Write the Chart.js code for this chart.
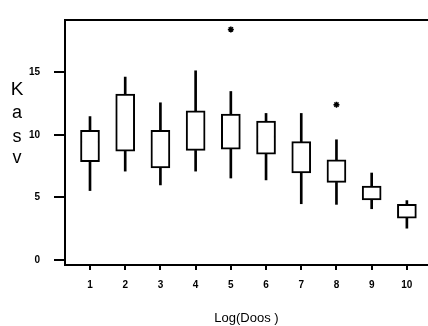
<!DOCTYPE html>
<html>
<head>
<meta charset="utf-8">
<script src="https://cdn.jsdelivr.net/npm/chart.js@4"></script>
<style>
  body { margin: 0; background: #fff; }
  canvas { display: block; }
</style>
</head>
<body>
<canvas id="chart" width="428" height="326"></canvas>
<script>
const ctx = document.getElementById("chart").getContext("2d");

// dose groups and box plot stats
const doses = [1, 2, 3, 4, 5, 6, 7, 8, 9, 10];
const whiskerLow = [5.55, 7.1, 6.0, 7.1, 6.55, 6.4, 4.5, 4.45, 4.1, 2.55];
const q1 = [7.85, 8.7, 7.35, 8.75, 8.85, 8.45, 6.95, 6.2, 4.8, 3.35];
const median = [9.45, 11.6, 8.7, 10.1, 10.15, 9.85, 8.25, 7.15, 5.65, 3.85];
const q3 = [10.35, 13.25, 10.35, 11.9, 11.65, 11.1, 9.45, 8.0, 5.9, 4.45];
const whiskerHigh = [11.45, 14.6, 12.55, 15.1, 13.45, 11.7, 11.7, 9.6, 6.95, 4.75];
const outlierDose = [5, 8];
const outlierValue = [18.4, 12.4];
const xTicks = [1, 2, 3, 4, 5, 6, 7, 8, 9, 10];
const yTicks = [0, 5, 10, 15];
const yTitle = ["K", "a", "s", "v"];

const tickFont = { family: "Liberation Sans", size: 10, weight: "bold" };

// top frame line + stacked y title
const framePlugin = {
  id: "frame",
  afterDraw(chart) {
    const c = chart.ctx;
    const a = chart.chartArea;
    c.save();
    c.strokeStyle = "#000";
    c.lineWidth = 2;
    c.beginPath();
    c.moveTo(a.left, a.top);
    c.lineTo(a.right, a.top);
    c.stroke();
    c.fillStyle = "#000";
    c.textAlign = "center";
    c.textBaseline = "middle";
    c.font = "19px 'Liberation Sans'";
    c.fillText(yTitle[0], 17, 90);
    c.font = "18px 'Liberation Sans'";
    c.fillText(yTitle[1], 17, 113);
    c.fillText(yTitle[2], 17, 137);
    c.fillText(yTitle[3], 17, 158);
    c.restore();
  },
};

new Chart(ctx, {
  type: "bar",
  data: {
    datasets: [
      {
        // lower whiskers
        data: doses.map((d, i) => ({ x: d, y: [whiskerLow[i], q1[i]] })),
        backgroundColor: "#000",
        borderWidth: 0,
        barThickness: 2,
        grouped: false,
      },
      {
        // upper whiskers
        data: doses.map((d, i) => ({ x: d, y: [q3[i], whiskerHigh[i]] })),
        backgroundColor: "#000",
        borderWidth: 0,
        barThickness: 2,
        grouped: false,
      },
      {
        // boxes
        data: doses.map((d, i) => ({ x: d, y: [q1[i], q3[i]] })),
        backgroundColor: "#fff",
        borderColor: "#000",
        borderWidth: 2,
        borderSkipped: false,
        barThickness: 19,
        grouped: false,
      },
      {
        type: "line",
        data: doses.map((d, i) => ({ x: d, y: median[i] })),
        showLine: false,
        pointStyle: "line",
        pointRadius: 9,
        pointBorderWidth: 2,
        borderColor: "#000",
      },
      {
        type: "line",
        data: outlierDose.map((d, i) => ({ x: d, y: outlierValue[i] })),
        showLine: false,
        pointStyle: "star",
        pointRadius: 3,
        pointBorderWidth: 1.5,
        borderColor: "#000",
      },
    ],
  },
  options: {
    responsive: false,
    animation: false,
    layout: { autoPadding: false, padding: { top: 11, right: 0, left: 0, bottom: 0 } },
    plugins: { legend: { display: false }, tooltip: { enabled: false } },
    scales: {
      x: {
        type: "linear",
        offset: false,
        min: 0.29,
        max: 10.6,
        afterBuildTicks: (s) => { s.ticks = xTicks.map((v) => ({ value: v })); },
        afterFit: (s) => { s.height = 61; s.paddingRight = 0; s.paddingLeft = 0; },
        ticks: { color: "#000", font: tickFont, padding: 9, maxRotation: 0 },
        grid: { offset: false, drawOnChartArea: false, color: "#000", tickLength: 5, lineWidth: 2 },
        border: { color: "#000", width: 2 },
        title: {
          display: true,
          text: "Log(Doos )",
          color: "#000",
          font: { family: "Liberation Sans", size: 13 },
          padding: { top: 0, bottom: 0 },
        },
      },
      y: {
        min: -0.385,
        max: 19.15,
        afterBuildTicks: (s) => { s.ticks = yTicks.map((v) => ({ value: v })); },
        afterFit: (s) => { s.width = 65; },
        ticks: { color: "#000", font: tickFont, padding: 14 },
        grid: { drawOnChartArea: false, color: "#000", tickLength: 11, lineWidth: 2 },
        border: { color: "#000", width: 2 },
      },
    },
  },
  plugins: [framePlugin],
});
</script>
</body>
</html>
